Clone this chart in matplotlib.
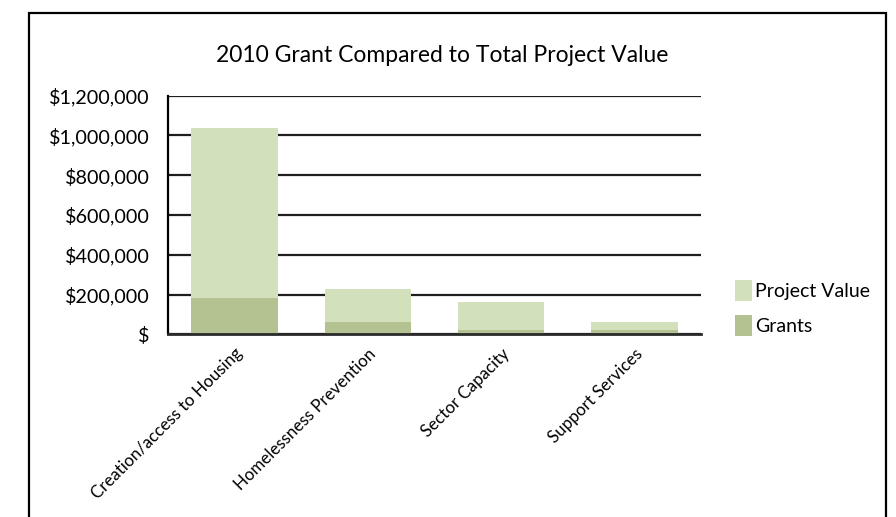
import matplotlib.pyplot as plt
import matplotlib.patches as mpatches
from matplotlib.ticker import FuncFormatter

plt.rcParams['font.family'] = ['Lato', 'DejaVu Sans']

# Data
categories = ['Creation/access to Housing', 'Homelessness Prevention',
              'Sector Capacity', 'Support Services']
project_value = [1037000, 230000, 164000, 63000]
grants = [184000, 62000, 22000, 22000]

light_green = '#d3e0bc'
dark_green = '#b3c290'

fig = plt.figure(figsize=(8.96, 5.17), dpi=100)
ax = fig.add_axes([168 / 896, 1 - 334.3 / 517, 533 / 896, (334.3 - 95.7) / 517])

x = range(len(categories))
ax.bar(x, project_value, width=0.65, color=light_green, label='Project Value', zorder=3)
ax.bar(x, grants, width=0.65, color=dark_green, label='Grants', zorder=4)

ax.set_xlim(-0.5, 3.5)
ax.set_ylim(0, 1200000)
ax.set_yticks(range(0, 1200001, 200000))


def money(v, pos):
    if v == 0:
        return '$'
    return '${:,.0f}'.format(v)


ax.yaxis.set_major_formatter(FuncFormatter(money))
ax.grid(axis='y', color='#1e1e1e', linewidth=1.6, zorder=1)
ax.tick_params(axis='both', length=0)
ax.tick_params(axis='y', pad=13, labelsize=14.2)
ax.set_xticks(list(x))
ax.set_xticklabels(categories, rotation=45, ha='right', rotation_mode='anchor', fontsize=12.2)
ax.tick_params(axis='x', pad=8)

for side in ['top', 'right']:
    ax.spines[side].set_visible(False)
ax.spines['left'].set_color('black')
ax.spines['left'].set_linewidth(1.6)
ax.spines['left'].set_zorder(5)
ax.spines['bottom'].set_color('#2a2a2a')
ax.spines['bottom'].set_linewidth(2)
ax.spines['bottom'].set_zorder(5)

fig.text(442 / 896, 1 - 55 / 517, '2010 Grant Compared to Total Project Value',
         ha='center', va='center', fontsize=16.5)

ax.legend(loc='center left', bbox_to_anchor=(1.05, 0.11), frameon=False,
          fontsize=14, handlelength=0.85, handleheight=1.3, handletextpad=0.15,
          labelspacing=0.7, borderaxespad=0)

# outer frame of the image
frame = mpatches.Rectangle((29 / 896, -0.05), (885.7 - 29) / 896, 1.05 - 12.7 / 517,
                           transform=fig.transFigure, fill=False,
                           edgecolor='black', linewidth=1.6)
fig.patches.append(frame)

fig.savefig('out.png', dpi=100)
